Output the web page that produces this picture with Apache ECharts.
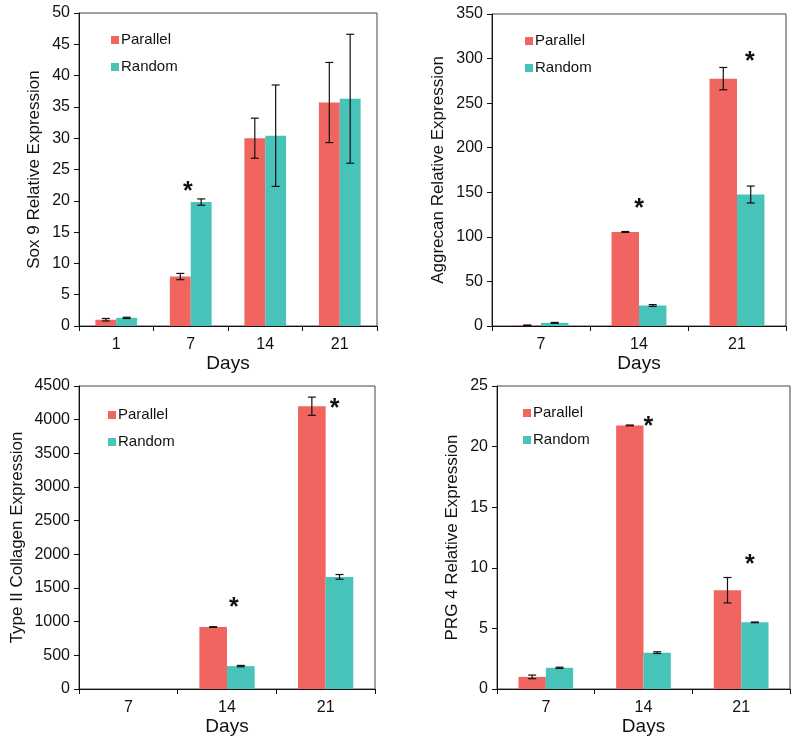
<!DOCTYPE html>
<html>
<head>
<meta charset="utf-8">
<script src="https://cdn.jsdelivr.net/npm/echarts@6/dist/echarts.min.js"></script>
<style>
    html, body { margin: 0; padding: 0; background: #fff; }
    #chart { width: 800px; height: 741px; }
</style>
</head>
<body>
<div id="chart"></div>
<script>
'use strict';

// Sox 9
var sox9Days = ['1', '7', '14', '21'];
var sox9Parallel = [1.0, 7.9, 30.0, 35.7];
var sox9ParallelErr = [0.2, 0.5, 3.2, 6.4];
var sox9Random = [1.3, 19.8, 30.4, 36.3];
var sox9RandomErr = [0.1, 0.5, 8.1, 10.3];
var sox9Stars = [[1, 22.4]];

// Aggrecan
var aggDays = ['7', '14', '21'];
var aggParallel = [0.8, 105.5, 277.5];
var aggParallelErr = [0.3, 0.5, 12.5];
var aggRandom = [3.5, 23.0, 147.5];
var aggRandomErr = [0.5, 1.0, 9.5];
var aggStars = [[1, 138], [2, 303]];

// Type II Collagen
var colDays = ['7', '14', '21'];
var colParallel = [2, 920, 4200];
var colParallelErr = [0, 5, 135];
var colRandom = [2, 340, 1665];
var colRandomErr = [0, 10, 35];
var colStars = [[1, 1290], [2, 4250]];

// PRG 4
var prgDays = ['7', '14', '21'];
var prgParallel = [1.0, 21.75, 8.15];
var prgParallelErr = [0.15, 0.03, 1.05];
var prgRandom = [1.75, 3.0, 5.5];
var prgRandomErr = [0.05, 0.07, 0.03];
var prgStars = [[1, 22.1], [2, 10.7]];

var RED = '#F0655F';
var TEAL = '#48C3BA';
var FONT = 'Liberation Sans, Arial, sans-serif';
var GAP = 0.44;

var panels = [
    {
        days: sox9Days, par: sox9Parallel, parErr: sox9ParallelErr, rnd: sox9Random, rndErr: sox9RandomErr, stars: sox9Stars,
        starShift: [-0.04],
        name: 'Sox 9 Relative Expression', max: 50, interval: 5,
        grid: {left: 79, top: 13, width: 298, height: 313}, nameGap: 36,
        legend: {left: 106, top: 26}
    },
    {
        days: aggDays, par: aggParallel, parErr: aggParallelErr, rnd: aggRandom, rndErr: aggRandomErr, stars: aggStars,
        starShift: [0, 0.13],
        name: 'Aggrecan Relative Expression', max: 350, interval: 50,
        grid: {left: 492, top: 14, width: 294, height: 312}, nameGap: 45,
        legend: {left: 520, top: 27}
    },
    {
        days: colDays, par: colParallel, parErr: colParallelErr, rnd: colRandom, rndErr: colRandomErr, stars: colStars,
        starShift: [0.07, 0.09],
        name: 'Type II Collagen Expression', max: 4500, interval: 500,
        grid: {left: 79, top: 386, width: 296, height: 303}, nameGap: 53,
        legend: {left: 103, top: 401}
    },
    {
        days: prgDays, par: prgParallel, parErr: prgParallelErr, rnd: prgRandom, rndErr: prgRandomErr, stars: prgStars,
        starShift: [0.05, 0.09],
        name: 'PRG 4 Relative Expression', max: 25, interval: 5,
        grid: {left: 497, top: 386, width: 293, height: 303}, nameGap: 36,
        legend: {left: 518, top: 399}
    }
];

// 误差线
function renderErrorBar(params, api) {
    var cat = api.value(0);
    var val = api.value(1);
    var err = api.value(2);
    var side = api.value(3);
    if (!err) {
        return null;
    }
    var band = api.size([1, 0])[0];
    var bw = band * (1 - GAP) / 2;
    var x = api.coord([cat, val])[0] + side * bw / 2;
    var yTop = api.coord([cat, val + err])[1];
    var yBot = api.coord([cat, val - err])[1];
    var cap = 4;
    var style = {stroke: '#111', lineWidth: 1.2};
    return {
        type: 'group',
        children: [
            {type: 'line', shape: {x1: x, y1: yTop, x2: x, y2: yBot}, style: style},
            {type: 'line', shape: {x1: x - cap, y1: yTop, x2: x + cap, y2: yTop}, style: style},
            {type: 'line', shape: {x1: x - cap, y1: yBot, x2: x + cap, y2: yBot}, style: style}
        ]
    };
}

var option = {
    animation: false,
    backgroundColor: '#fff',
    grid: [],
    xAxis: [],
    yAxis: [],
    legend: [],
    series: []
};

panels.forEach(function (p, i) {
    option.grid.push({
        left: p.grid.left, top: p.grid.top, width: p.grid.width, height: p.grid.height,
        show: true, borderColor: '#444', borderWidth: 1, backgroundColor: 'transparent'
    });
    option.xAxis.push({
        type: 'category', gridIndex: i, data: p.days,
        name: 'Days', nameLocation: 'middle', nameGap: 22,
        nameTextStyle: {fontFamily: FONT, fontSize: 19, color: '#111'},
        axisLine: {lineStyle: {color: '#111', width: 1}},
        axisTick: {show: true, length: 5, lineStyle: {color: '#111'}},
        axisLabel: {fontFamily: FONT, fontSize: 16, color: '#111', margin: 11},
        splitLine: {show: false}
    });
    option.yAxis.push({
        type: 'value', gridIndex: i, min: 0, max: p.max, interval: p.interval,
        name: p.name, nameLocation: 'middle', nameGap: p.nameGap, nameRotate: 90,
        nameTextStyle: {fontFamily: FONT, fontSize: 17, color: '#111'},
        axisLine: {show: true, lineStyle: {color: '#111', width: 1}},
        axisTick: {show: true, length: 5, lineStyle: {color: '#111'}},
        axisLabel: {
            fontFamily: FONT, fontSize: 16, color: '#111', margin: 9,
            formatter: function (v) { return String(v); }
        },
        splitLine: {show: false}
    });
    option.legend.push({
        orient: 'vertical', left: p.legend.left, top: p.legend.top,
        data: ['Parallel', 'Random'],
        itemWidth: 8, itemHeight: 8, itemGap: 9, icon: 'rect',
        textStyle: {fontFamily: FONT, fontSize: 15, color: '#111', lineHeight: 18, padding: [0, 0, 0, -3]},
        selectedMode: false
    });
    option.series.push({
        name: 'Parallel', type: 'bar', xAxisIndex: i, yAxisIndex: i,
        data: p.par, barGap: '0%', barCategoryGap: (GAP * 100) + '%',
        itemStyle: {color: RED}
    });
    option.series.push({
        name: 'Random', type: 'bar', xAxisIndex: i, yAxisIndex: i,
        data: p.rnd, barGap: '0%', barCategoryGap: (GAP * 100) + '%',
        itemStyle: {color: TEAL}
    });

    var errData = [];
    for (var k = 0; k < p.days.length; k++) {
        errData.push([k, p.par[k], p.parErr[k], -1]);
        errData.push([k, p.rnd[k], p.rndErr[k], 1]);
    }
    option.series.push({
        type: 'custom', xAxisIndex: i, yAxisIndex: i, z: 5,
        data: errData, encode: {x: 0, y: 1},
        renderItem: renderErrorBar
    });

    // 显著性星号
    var starData = p.stars.map(function (s, j) {
        return [s[0], s[1], p.starShift[j]];
    });
    option.series.push({
        type: 'custom', xAxisIndex: i, yAxisIndex: i, z: 6,
        data: starData, encode: {x: 0, y: 1},
        renderItem: function (params, api) {
            var band = api.size([1, 0])[0];
            var pt = api.coord([api.value(0), api.value(1)]);
            return {
                type: 'text',
                style: {
                    text: '*', x: pt[0] + api.value(2) * band, y: pt[1] + 6,
                    fill: '#111', font: 'bold 25px ' + FONT,
                    align: 'center', verticalAlign: 'middle'
                }
            };
        }
    });
});

var myChart = echarts.init(document.getElementById('chart'));
myChart.setOption(option);
</script>
</body>
</html>
